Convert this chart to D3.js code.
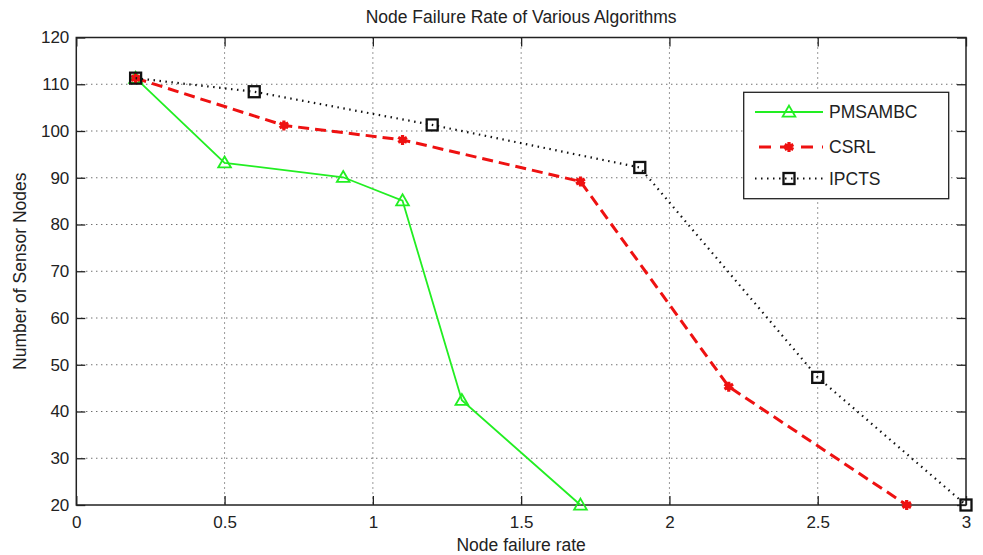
<!DOCTYPE html>
<html><head><meta charset="utf-8">
<script src="https://cdn.jsdelivr.net/npm/d3@7"></script>
<style>body{margin:0;background:#fff}svg{display:block}text{font-family:"Liberation Sans",Arial,sans-serif;fill:#222}</style>
</head><body><svg id="c" width="983" height="555"></svg>
<script>
const seriesNames = ["PMSAMBC", "CSRL", "IPCTS"];
const pmsambcX = [0.2, 0.5, 0.9, 1.1, 1.3, 1.7];
const pmsambcY = [111.3, 93.2, 90.1, 85.1, 42.4, 20];
const csrlX = [0.2, 0.7, 1.1, 1.7, 2.2, 2.8];
const csrlY = [111.3, 101.2, 98.1, 89.2, 45.3, 20];
const ipctsX = [0.2, 0.6, 1.2, 1.9, 2.5, 3.0];
const ipctsY = [111.3, 108.4, 101.3, 92.2, 47.3, 20];
const xTicks = [0, 0.5, 1, 1.5, 2, 2.5, 3];
const yTicks = [20, 30, 40, 50, 60, 70, 80, 90, 100, 110, 120];
const titleText = "Node Failure Rate of Various Algorithms";
const xLabel = "Node failure rate";
const yLabel = "Number of Sensor Nodes";

const svg = d3.select("#c");
const L = 76.3, R = 966, T = 37.5, B = 505;
const x = d3.scaleLinear().domain([0, 3]).range([L, R]);
const y = d3.scaleLinear().domain([20, 120]).range([B, T]);

// grid
const g = svg.append("g");
g.selectAll(".gx").data(xTicks.slice(1, -1)).join("line")
  .attr("x1", d => x(d)).attr("x2", d => x(d)).attr("y1", T).attr("y2", B)
  .attr("stroke", "#333").attr("stroke-width", 1).attr("stroke-dasharray", "1,4");
g.selectAll(".gy").data(yTicks.slice(1, -1)).join("line")
  .attr("y1", d => y(d)).attr("y2", d => y(d)).attr("x1", L).attr("x2", R)
  .attr("stroke", "#333").attr("stroke-width", 1).attr("stroke-dasharray", "1,4");

// axes
const ax = d3.axisBottom(x).tickValues(xTicks).tickSize(-9).tickPadding(11).tickFormat(d3.format("~g"));
const axT = d3.axisTop(x).tickValues(xTicks).tickSize(-9).tickFormat("");
const ay = d3.axisLeft(y).tickValues(yTicks).tickSize(-9).tickPadding(7).tickFormat(d3.format("d"));
const ayR = d3.axisRight(y).tickValues(yTicks).tickSize(-9).tickFormat("");
function styleAxis(sel) {
  sel.select(".domain").remove();
  sel.selectAll(".tick line").attr("stroke", "#222").attr("stroke-width", 1.3);
  sel.selectAll(".tick text").style("font-size", "17px").attr("fill", "#222");
}
svg.append("g").attr("transform", `translate(0,${B})`).call(ax).call(styleAxis);
svg.append("g").attr("transform", `translate(0,${T})`).call(axT).call(styleAxis);
svg.append("g").attr("transform", `translate(${L},0)`).call(ay).call(styleAxis);
svg.append("g").attr("transform", `translate(${R},0)`).call(ayR).call(styleAxis);
// left axis tick labels sit outside the plot; with tickSize negative d3 offsets by padding only
svg.selectAll("g").filter(function(){ return this.getAttribute("transform") === `translate(${L},0)`; })
  .selectAll(".tick text").attr("x", -7);
svg.append("rect").attr("x", L).attr("y", T).attr("width", R - L).attr("height", B - T)
  .attr("fill", "none").attr("stroke", "#222").attr("stroke-width", 1.5);

const styles = [
  {color: "#22ee22", width: 1.8, dash: null, marker: "tri"},
  {color: "#ee1111", width: 3, dash: "11,6", marker: "ast"},
  {color: "#111", width: 2.2, dash: "1.5,4.5", marker: "sq"}
];
const data = [
  pmsambcX.map((v, i) => [v, pmsambcY[i]]),
  csrlX.map((v, i) => [v, csrlY[i]]),
  ipctsX.map((v, i) => [v, ipctsY[i]])
];
const line = d3.line().x(d => x(d[0])).y(d => y(d[1]));

function drawMarker(sel, type, color, cx, cy) {
  if (type === "tri") {
    sel.append("path").attr("d", d3.symbol(d3.symbolTriangle, 70)())
      .attr("transform", `translate(${cx},${cy + 1})`).attr("fill", "none").attr("stroke", color).attr("stroke-width", 1.8);
  } else if (type === "ast") {
    sel.append("path").attr("d", d3.symbol(d3.symbolAsterisk, 70)())
      .attr("transform", `translate(${cx},${cy})`).attr("fill", "none").attr("stroke", color).attr("stroke-width", 3.2);
    sel.append("circle").attr("cx", cx).attr("cy", cy).attr("r", 3.5).attr("fill", color);
  } else {
    sel.append("rect").attr("x", cx - 5.5).attr("y", cy - 5.5).attr("width", 11).attr("height", 11)
      .attr("fill", "none").attr("stroke", color).attr("stroke-width", 2.3);
  }
}

[0, 1, 2].forEach(i => {
  const s = styles[i];
  const p = svg.append("path").datum(data[i]).attr("d", line)
    .attr("fill", "none").attr("stroke", s.color).attr("stroke-width", s.width);
  if (s.dash) p.attr("stroke-dasharray", s.dash);
  const mg = svg.append("g");
  data[i].forEach(d => drawMarker(mg, s.marker, s.color, x(d[0]), y(d[1])));
});

// legend
const lg = svg.append("g");
lg.append("rect").attr("x", 743.7).attr("y", 92.3).attr("width", 205).attr("height", 106.4)
  .attr("fill", "#fff").attr("stroke", "#222").attr("stroke-width", 1.3);
const ly = [112, 147, 178.5];
seriesNames.forEach((n, i) => {
  const s = styles[i];
  const ln = lg.append("line").attr("x1", 755).attr("x2", 823).attr("y1", ly[i]).attr("y2", ly[i])
    .attr("stroke", s.color).attr("stroke-width", s.width);
  if (s.dash) ln.attr("stroke-dasharray", i === 1 ? "12,9" : "1.5,4.5").attr("stroke-dashoffset", i === 1 ? -4 : 0);
  drawMarker(lg, s.marker, s.color, 789, ly[i]);
  lg.append("text").attr("x", 829).attr("y", ly[i] + 6).text(n).style("font-size", "17.5px");
});

// titles
svg.append("text").attr("x", (L + R) / 2).attr("y", 23).attr("text-anchor", "middle").style("font-size", "17.5px").text(titleText);
svg.append("text").attr("x", (L + R) / 2).attr("y", 551).attr("text-anchor", "middle").style("font-size", "17.5px").text(xLabel);
svg.append("text").attr("transform", `translate(26,${(T + B) / 2}) rotate(-90)`).attr("text-anchor", "middle").style("font-size", "17.5px").text(yLabel);
</script></body></html>
